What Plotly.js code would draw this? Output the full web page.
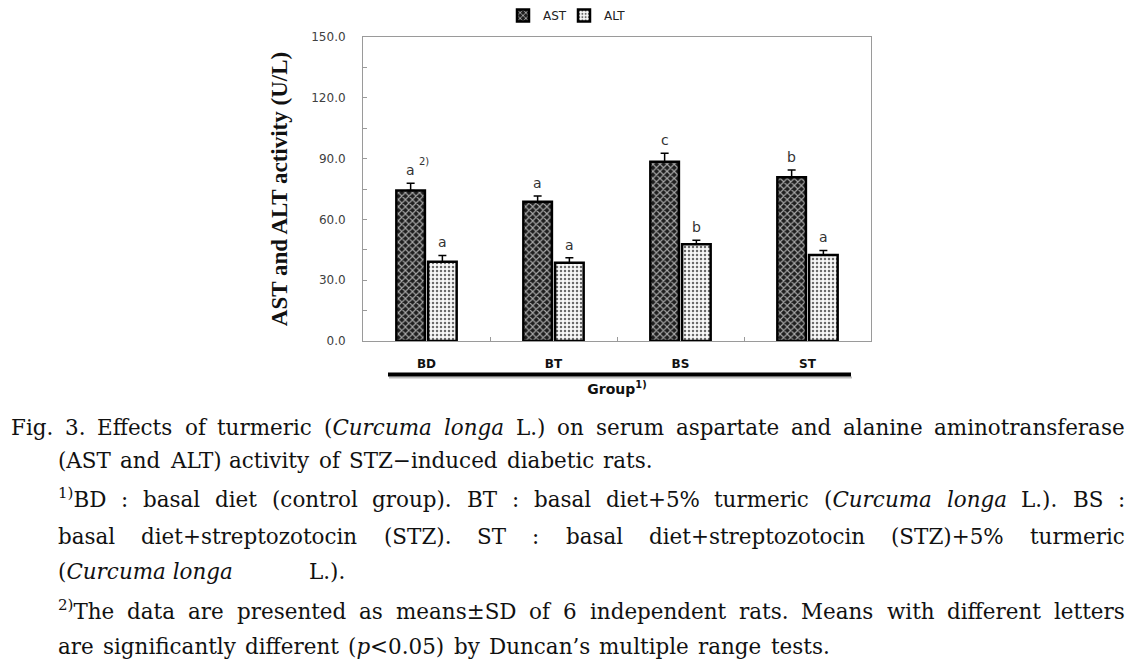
<!DOCTYPE html>
<html>
<head>
<meta charset="utf-8">
<script src="https://cdn.plot.ly/plotly-3.0.1.min.js"></script>
<style>html,body{margin:0;padding:0;background:#fff;}#chart{width:1142px;height:661px;}</style>
</head>
<body>
<div id="chart"></div>
<script>
// ---- data ----
const categories = ['BD', 'BT', 'BS', 'ST'];
const astMean = [74.2, 68.7, 88.5, 80.8];
const astSD   = [3.6, 2.8, 4.1, 3.6];
const altMean = [39.1, 38.6, 47.7, 42.4];
const altSD   = [3.1, 2.5, 2.0, 2.3];
const astLetters = ['a', 'a', 'c', 'b'];
const altLetters = ['a', 'a', 'b', 'a'];
const astNotes   = ['2)', '', '', ''];
const seriesNames = ['AST', 'ALT'];
const yTitle = 'AST and ALT activity (U/L)';
const xTitle = 'Group<sup>1)</sup>';

const captionLines = [
  'Fig. 3. Effects of turmeric (<i>Curcuma</i> <i>longa</i> L.) on serum aspartate and alanine aminotransferase',
  '(AST and ALT) activity of STZ\u2212induced diabetic rats.',
  '<sup>1)</sup>BD : basal diet (control group). BT : basal diet+5% turmeric (<i>Curcuma</i> <i>longa</i> L.). BS :',
  'basal diet+streptozotocin (STZ). ST : basal diet+streptozotocin (STZ)+5% turmeric',
  '(<i>Curcuma\u00a0longa</i> L.).',
  '<sup>2)</sup>The data are presented as means\u00b1SD of 6 independent rats. Means with different letters',
  'are significantly different (<i>p</i>&lt;0.05) by Duncan\u2019s multiple range tests.'
];

// ---- layout geometry (pixels) ----
const W = 1142, H = 661;
const PL = 363, PR = 871, PT = 37, PB = 341;
const pw = PR - PL, ph = PB - PT;
const px2x = p => (p - PL) / pw;
const px2y = p => (PB - p) / ph;

// caption placement: [left px, right px (null = natural), center y px]
const capPos = [
  [10, 1124, 428], [57, null, 461], [57, 1124, 500], [57, 1124, 537],
  [57, 344, 572], [57, 1124, 612], [57, null, 647]
];

const canvas = document.createElement('canvas');
const ctx = canvas.getContext('2d');
const SERIF = 'DejaVu Serif';
function measure(word, size) {
  let total = 0, italic = false, sup = false;
  word.split(/(<\/?i>|<\/?sup>)/).forEach(p => {
    if (p === '<i>') italic = true;
    else if (p === '</i>') italic = false;
    else if (p === '<sup>') sup = true;
    else if (p === '</sup>') sup = false;
    else if (p) {
      ctx.font = (italic ? 'italic ' : '') + (sup ? size * 0.7 : size) + 'px "' + SERIF + '"';
      total += ctx.measureText(p.replace(/&lt;/g, '<')).width;
    }
  });
  return total;
}
function spaceW(size) {
  ctx.font = size + 'px "' + SERIF + '"';
  return ctx.measureText(' ').width * 1.35;
}
function lineWidth(line, size) {
  const words = line.split(' ');
  return words.reduce((s, w) => s + measure(w, size), 0) + spaceW(size) * (words.length - 1);
}
// pick font size so that line 2 (natural spacing) spans like the reference
let S = 22 * (652 - 57) / lineWidth(captionLines[1], 22);
S = Math.max(16, Math.min(24, S));

const annotations = [];
captionLines.forEach((line, li) => {
  const [x0, x1, yc] = capPos[li];
  const words = line.split(' ');
  const widths = words.map(w => measure(w, S));
  let gap = spaceW(S);
  if (x1 !== null && words.length > 1) {
    gap = (x1 - x0 - widths.reduce((a, b) => a + b, 0)) / (words.length - 1);
  }
  let x = x0;
  const yb = yc + 0.6 * S;
  words.forEach((w, i) => {
    annotations.push({
      xref: 'paper', yref: 'paper', x: px2x(x), y: px2y(yb),
      xanchor: 'left', yanchor: 'bottom', showarrow: false, borderpad: 0,
      text: w, font: {family: SERIF, size: S, color: '#111'}
    });
    x += widths[i] + gap;
  });
});

// significance letters, placed from data
const bargap = 0.5;
const offset = (1 - bargap) / 4 * pw / categories.length;
categories.forEach((c, i) => {
  annotations.push({
    x: c, y: astMean[i] + astSD[i], xref: 'x', yref: 'y', showarrow: false,
    xshift: -offset, yshift: 3, yanchor: 'bottom', text: astLetters[i],
    font: {family: 'DejaVu Sans', size: 14, color: '#333'}
  });
  if (astNotes[i]) {
    annotations.push({
      x: c, y: astMean[i] + astSD[i], xref: 'x', yref: 'y', showarrow: false,
      xshift: -offset + 6, yshift: 14, xanchor: 'left', yanchor: 'bottom', text: astNotes[i],
      font: {family: 'DejaVu Sans', size: 10, color: '#333'}
    });
  }
  annotations.push({
    x: c, y: altMean[i] + altSD[i], xref: 'x', yref: 'y', showarrow: false,
    xshift: offset, yshift: 3, yanchor: 'bottom', text: altLetters[i],
    font: {family: 'DejaVu Sans', size: 14, color: '#333'}
  });
});

const traces = [
  {
    type: 'bar', name: seriesNames[0], x: categories, y: astMean,
    error_y: {type: 'data', symmetric: false, array: astSD, arrayminus: astSD.map(() => 0),
              color: '#000', thickness: 1.5, width: 4},
    marker: {color: '#2a2a2a', line: {color: '#000', width: 2.5},
             pattern: {shape: 'x', bgcolor: '#1f1f1f', fgcolor: '#a8a8a8', size: 5, solidity: 0.4}}
  },
  {
    type: 'bar', name: seriesNames[1], x: categories, y: altMean,
    error_y: {type: 'data', symmetric: false, array: altSD, arrayminus: altSD.map(() => 0),
              color: '#000', thickness: 1.5, width: 4},
    marker: {color: '#eeeeee', line: {color: '#000', width: 2.5},
             pattern: {shape: '.', bgcolor: '#f8f8f8', fgcolor: '#6a6a6a', size: 4, solidity: 0.3}}
  }
];

const layout = {
  width: W, height: H,
  margin: {l: PL, r: W - PR, t: PT, b: H - PB, pad: 0, autoexpand: false},
  paper_bgcolor: '#fff', plot_bgcolor: '#fff',
  font: {family: 'DejaVu Sans', color: '#333'},
  barmode: 'group', bargap: bargap, bargroupgap: 0.1,
  showlegend: true,
  legend: {orientation: 'h', x: px2x(503), y: px2y(1), xanchor: 'left', yanchor: 'top',
           font: {family: 'DejaVu Sans', size: 12, color: '#222'}, itemwidth: 30,
           entrywidth: 16, entrywidthmode: 'pixels',
           bgcolor: 'rgba(0,0,0,0)', tracegroupgap: 0},
  xaxis: {
    type: 'category', automargin: false, showgrid: false, zeroline: false,
    showline: true, linecolor: '#9a9a9a', linewidth: 1, mirror: true,
    ticks: 'inside', tickson: 'boundaries', ticklen: 4, tickcolor: '#9a9a9a',
    tickfont: {family: 'DejaVu Sans', size: 12, color: '#111', weight: 'bold'},
    ticklabelstandoff: 12,
    title: {text: xTitle, standoff: 13, font: {family: 'DejaVu Sans', size: 14, color: '#111', weight: 'bold'}}
  },
  yaxis: {
    range: [0, 150], automargin: false, showgrid: false, zeroline: false,
    showline: true, linecolor: '#9a9a9a', linewidth: 1, mirror: true,
    tick0: 0, dtick: 30, tickformat: '.1f', ticks: 'inside', ticklen: 4, tickcolor: '#9a9a9a',
    minor: {dtick: 15, ticks: 'inside', ticklen: 4, tickcolor: '#9a9a9a', showgrid: false},
    tickfont: {family: 'DejaVu Sans', size: 12, color: '#404040'},
    ticklabelstandoff: 14,
    title: {text: yTitle, standoff: 17, font: {family: 'Liberation Serif', size: 23, color: '#111', weight: 'bold'}}
  },
  shapes: [
    {type: 'line', xref: 'paper', yref: 'paper', x0: px2x(389), x1: px2x(852), y0: px2y(377.5), y1: px2y(377.5),
     line: {color: '#bdbdbd', width: 2}},
    {type: 'line', xref: 'paper', yref: 'paper', x0: px2x(388), x1: px2x(851), y0: px2y(374.5), y1: px2y(374.5),
     line: {color: '#000', width: 4}}
  ],
  annotations: annotations
};

Plotly.newPlot('chart', traces, layout, {displayModeBar: false, staticPlot: true});
</script>
</body>
</html>
